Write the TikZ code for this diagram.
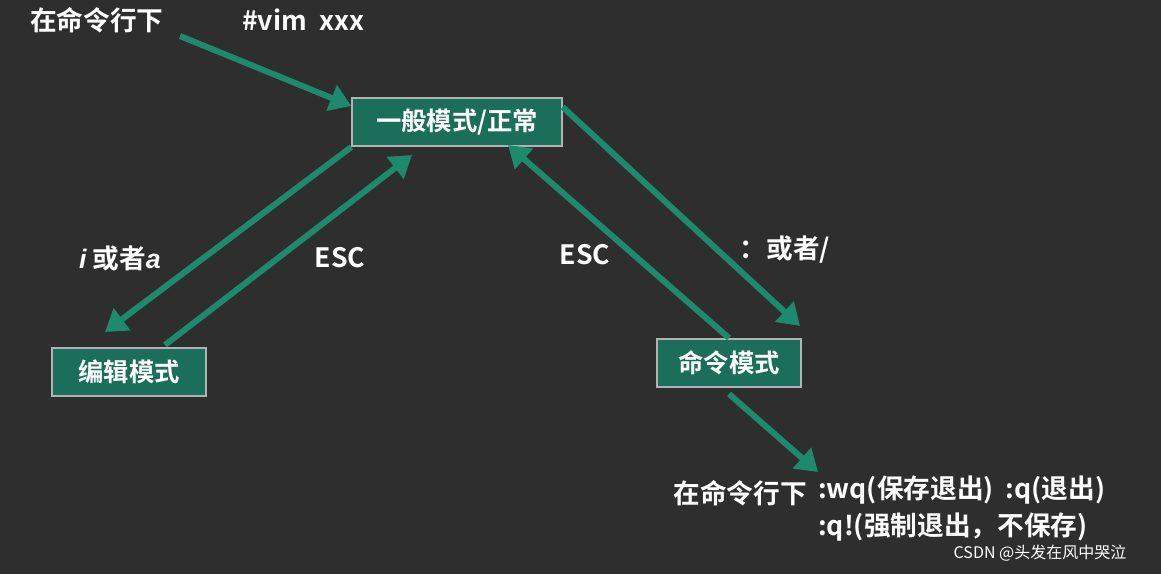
\documentclass[tikz,border=0pt]{standalone}
\usepackage{fontspec}
\setmainfont{Liberation Sans}
\newfontfamily\cjk{Noto Sans CJK SC}[BoldFont={* Bold}]
\newfontfamily\lat{Liberation Sans}
\usetikzlibrary{arrows.meta}
\definecolor{board}{HTML}{2E2E2E}
\definecolor{teal}{HTML}{1E8A6C}
\definecolor{boxfill}{HTML}{1B6E5A}
\tikzset{
  lbl/.style={text=white,font=\cjk\bfseries\fontsize{20}{22}\selectfont,inner sep=0},
  mbox/.style={draw=gray!60,line width=1.5,fill=boxfill,text=white,font=\cjk\bfseries\fontsize{19}{21}\selectfont,minimum height=36,inner sep=0},
  arr/.style={draw=teal,line width=4.5,-{Triangle[length=16,width=20]}}
}
\begin{document}
\begin{tikzpicture}[x=0.75pt,y=-0.75pt]
\fill[board] (0,0) rectangle (1161,574);
\useasboundingbox (0,0) rectangle (1161,574);
\node[lbl] (t1) at (97,20) {在命令行下};
\node[lbl] (t2) at (303,20) {\#vim\ \ xxx};
\coordinate (s1) at (180,36);
\coordinate (s2) at (165,345);
\node[mbox,minimum width=157] (n) at (457,122) {一般模式/正常};
\node[mbox,minimum width=115] (e) at (129,372) {编辑模式};
\node[mbox,minimum width=108] (c) at (729,363) {命令模式};
\draw[arr] (s1) -- (n.west|-0,106);
\draw[arr] (n.south west) -- (105,332);
\draw[arr] (s2) -- (412,155);
\draw[arr] (c.north) -- (508,145);
\draw[arr] (n.north east) ++(0,10) -- (800,326);
\draw[arr] (c.south) ++(0,6) -- (818,472);
\node[lbl] (l1) at (120,258) {{\lat\bfseries\itshape i} 或者{\lat\bfseries\itshape a}};
\node[lbl] (l2) at (340,258) {ESC};
\node[lbl] (l3) at (585,255) {ESC};
\node[lbl] (l4) at (785,250) {：或者/};
\node[lbl] (l5) at (740,493) {在命令行下};
\node[lbl,anchor=west] (l6) at (818,490) {:wq(保存退出)\ \ :q(退出)};
\node[lbl,anchor=west] (l7) at (818,527) {:q!(强制退出，不保存)};
\node[text=white,font=\cjk\fontsize{12}{14}\selectfont,inner sep=0] (w) at (1040,553) {CSDN @头发在风中哭泣};
\end{tikzpicture}
\end{document}
